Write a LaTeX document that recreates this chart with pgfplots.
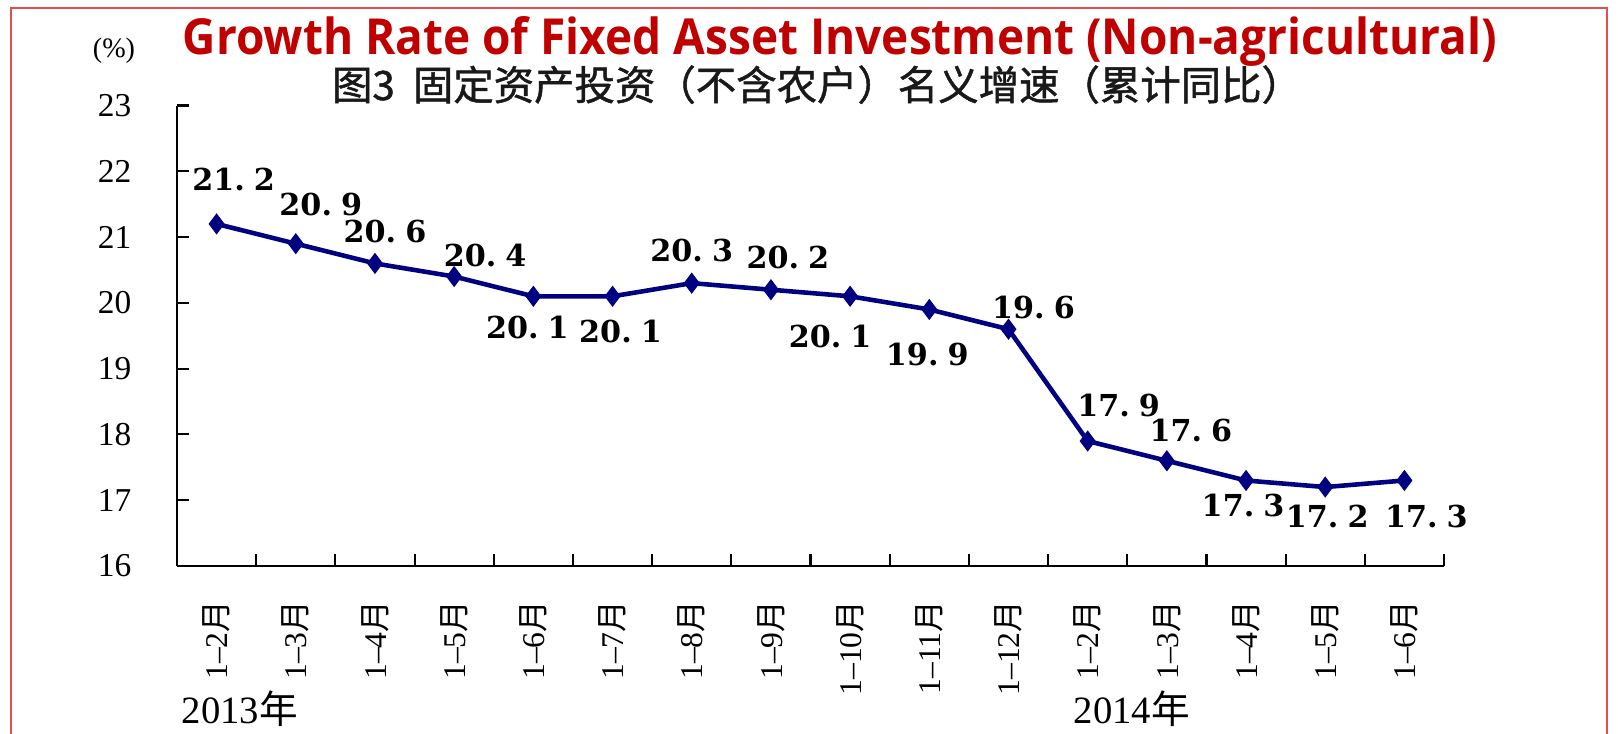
\documentclass[border=0pt]{standalone}
\usepackage{fontspec}
\setmainfont{Liberation Serif}
\newfontfamily\cjk{Noto Sans CJK SC}
\newfontfamily\cjktitle[FakeBold=1.2]{Noto Sans CJK SC}
\newfontfamily\titlefont{Open Sans}
\newfontfamily\lblfont{DejaVu Serif}
\usepackage{pgfplots}
\usepackage{pgfplotstable}
\pgfplotsset{compat=1.18}
\definecolor{navyline}{RGB}{0,0,128}
\definecolor{titlered}{RGB}{192,0,0}
\definecolor{framered}{RGB}{225,80,80}
\newcommand\yue{{\cjk 月}}
\newcommand\nian{{\cjk 年}}

\pgfplotstableread{
x y dx dy
0 21.2 17 44
1 20.9 25 39
2 20.6 10 32
3 20.4 31 21
4 20.1 -6 -31
5 20.1 8 -35
6 20.3 0 33
7 20.2 17 32
8 20.1 -20 -40
9 19.9 -2 -45
10 19.6 25 22
11 17.9 31 36
12 17.6 24 30
13 17.3 -3 -25
14 17.2 2 -29
15 17.3 22 -36
}\datatable

\begin{document}
\begin{tikzpicture}[x=1mm,y=1mm]
\path[use as bounding box] (0,0) rectangle (161.8,73.3);
\draw[framered, line width=0.5pt] (1.1,-2) -- (1.1,72.5) -- (160.7,72.5) -- (160.7,-2);

\node[anchor=base, text=titlered, inner sep=0pt] at (84.0,67.8)
  {\resizebox{131.4mm}{3.8mm}{\titlefont\bfseries Growth Rate of Fixed Asset Investment (Non-agricultural)}};
\node[anchor=base, text=black!90, inner sep=0pt] at (81.7,63.3)
  {\resizebox{97mm}{!}{\cjktitle 图3\hspace{0.45em}固定资产投资（不含农户）名义增速（累计同比）}};
\node[inner sep=0pt, font=\fontsize{8}{9}\selectfont] at (11.4,68.2) {(\%)};

\node[anchor=base west, inner sep=0pt, font=\fontsize{11}{12}\selectfont] at (18.1,1.0) {2013\nian};
\node[anchor=base west, inner sep=0pt, font=\fontsize{11}{12}\selectfont] at (107.3,1.0) {2014\nian};

\begin{axis}[
  at={(17.7mm,16.7mm)}, anchor=south west,
  scale only axis, width=126.7mm, height=46.05mm,
  xmin=-0.5, xmax=15.5, ymin=16, ymax=23,
  axis x line*=bottom, axis y line*=left,
  axis line style={line width=0.6pt, black},
  tick style={line width=0.6pt, black},
  tick align=inside,
  major tick length=1.2mm, minor tick length=1.2mm,
  xtick={0,...,15},
  xticklabels={1–2\yue,1–3\yue,1–4\yue,1–5\yue,1–6\yue,1–7\yue,1–8\yue,1–9\yue,1–10\yue,1–11\yue,1–12\yue,1–2\yue,1–3\yue,1–4\yue,1–5\yue,1–6\yue},
  minor xtick={-0.5,0.5,...,15.5},
  every major x tick/.append style={draw=none},
  ytick={16,...,23},
  /pgf/number format/assume math mode=true,
  yticklabel style={font=\fontsize{9.5}{10}\selectfont, anchor=east, inner sep=0pt, xshift=-4.5mm},
  xticklabel style={font=\fontsize{9}{10}\selectfont, yshift=-3.4mm, rotate=90, anchor=east, inner sep=0pt},
  clip=false,
]
\addplot[navyline, line width=1.3pt, mark=diamond*, mark size=0.95mm,
  mark options={solid, line width=0.4pt, fill=navyline},
  point meta=explicit,
  visualization depends on={\thisrow{dx} \as \dx},
  visualization depends on={\thisrow{dy} \as \dy},
  nodes near coords,
  every node near coord/.append style={anchor=center, text=black, inner sep=0pt,
    font=\lblfont\bfseries\fontsize{8.6}{9}\selectfont,
    xshift={\dx*0.1mm}, yshift={\dy*0.1mm},
    /pgf/number format/fixed, /pgf/number format/precision=1,
    /pgf/number format/fixed zerofill,
    /pgf/number format/dec sep={.\hspace{0.3em}},
    /pgf/number format/assume math mode=true},
] table[x=x, y=y, meta=y] {\datatable};
\end{axis}
\end{tikzpicture}
\end{document}
